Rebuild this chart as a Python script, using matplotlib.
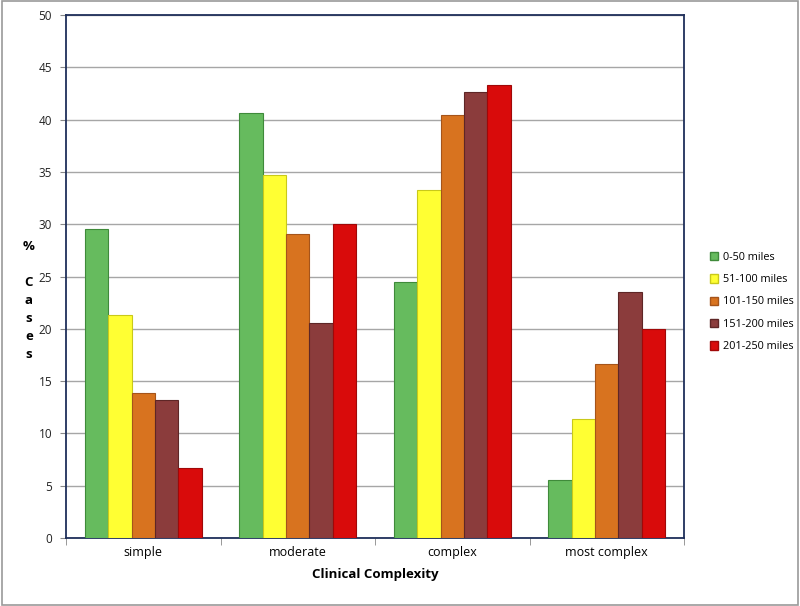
import matplotlib
matplotlib.use("Agg")
import matplotlib.pyplot as plt
from matplotlib.patches import Patch, Rectangle
import numpy as np

categories = ["simple", "moderate", "complex", "most complex"]
series_names = ["0-50 miles", "51-100 miles", "101-150 miles", "151-200 miles", "201-250 miles"]
v_0_50 = [29.5, 40.6, 24.5, 5.5]
v_51_100 = [21.3, 34.7, 33.3, 11.4]
v_101_150 = [13.9, 29.1, 40.4, 16.6]
v_151_200 = [13.2, 20.6, 42.6, 23.5]
v_201_250 = [6.7, 30.0, 43.3, 20.0]
series = [v_0_50, v_51_100, v_101_150, v_151_200, v_201_250]
colors = ["#66bb5e", "#ffff33", "#d8731f", "#8b3c3c", "#d90b0b"]
edges = ["#3f8a3a", "#c9c91a", "#a5541a", "#5e2626", "#a00808"]

plt.rcParams['font.family'] = ['Open Sans', 'DejaVu Sans']

fig = plt.figure(figsize=(8, 6.06), dpi=100)
ax = fig.add_axes([66/800, 1-538/606, (684-66)/800, (538-15)/606])

x = np.arange(len(categories))
bw = 0.152
for i, (vals, c, e) in enumerate(zip(series, colors, edges)):
    offs = (i - 2) * bw
    ax.bar(x + offs, vals, width=bw, color=c, edgecolor=e, linewidth=0.8,
           label=series_names[i], zorder=3)

ax.set_xlim(-0.5, len(categories) - 0.5)
ax.set_ylim(0, 50)
ax.set_yticks(range(0, 51, 5))
ax.yaxis.grid(True, color="#a6a6a6", linewidth=1.0, zorder=0)
ax.set_axisbelow(True)
ax.set_xticks(x)
ax.set_xticklabels(categories, fontsize=9)
ax.tick_params(axis='x', length=0, pad=6)
ax.set_xticks(np.arange(-0.5, len(categories), 1.0), minor=True)
ax.tick_params(axis='x', which='minor', length=5, color="#888888", direction='out')
ax.tick_params(axis='y', labelsize=8.5, length=4, color="#888888", pad=6)
for lab in ax.get_yticklabels():
    lab.set_color("#222222")
for s in ax.spines.values():
    s.set_color("#1f2f5a")
    s.set_linewidth(1.3)

ax.set_xlabel("Clinical Complexity", fontsize=9.5, fontweight='bold', labelpad=6)

fig.text(29/800, 1-247/606, "%", fontsize=9.5, fontweight='bold', ha='center', va='center')
for k, ch in enumerate("Cases"):
    fig.text(29/800, 1-(282+18*k)/606, ch, fontsize=9.5, fontweight='bold', ha='center', va='center')

handles = [Patch(facecolor=c, edgecolor=e) for c, e in zip(colors, edges)]
leg = fig.legend(handles, series_names, loc='center left', bbox_to_anchor=(700/800, 1-302/606),
                 frameon=False, fontsize=7.8, handlelength=0.8, handleheight=0.8,
                 handletextpad=0.4, labelspacing=1.05)

fig.patches.append(Rectangle((0.002, 0.002), 0.996, 0.996, transform=fig.transFigure,
                             fill=False, edgecolor="#9a9a9a", linewidth=1.2))

fig.savefig("out.png", dpi=100)
